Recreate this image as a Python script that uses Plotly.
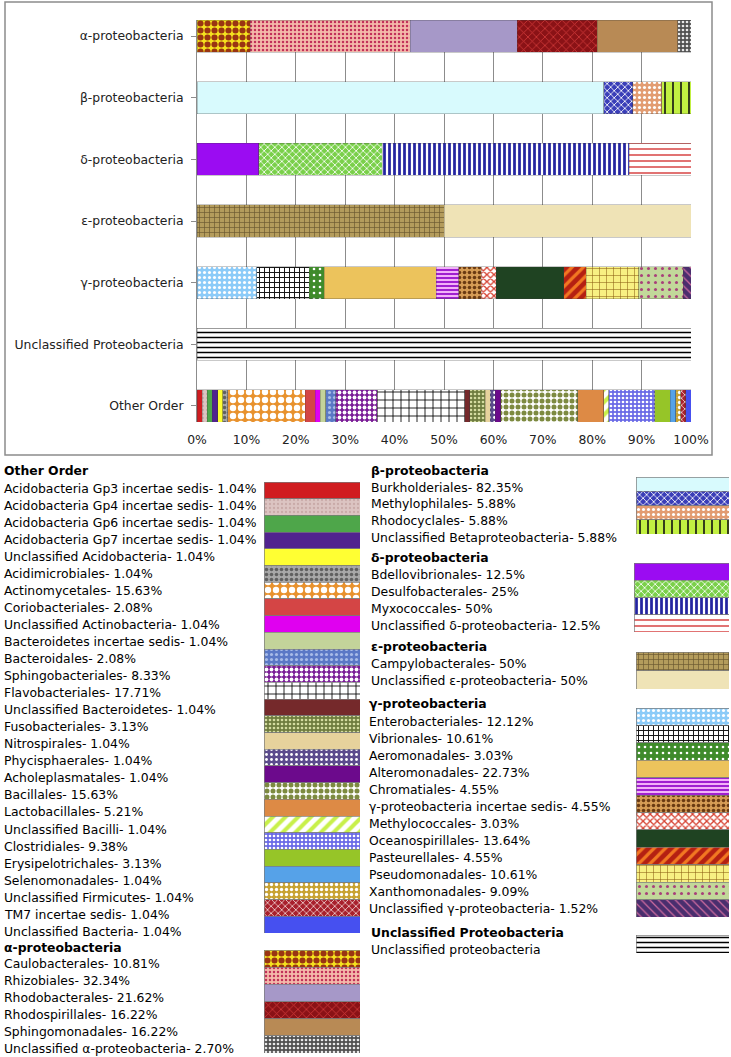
import plotly.graph_objects as go

W, H = 731, 1057
FONT = "DejaVu Sans"

categories = ["α-proteobacteria", "β-proteobacteria", "δ-proteobacteria", "ε-proteobacteria",
              "γ-proteobacteria", "Unclassified Proteobacteria", "Other Order"]
x_ticks = [0, 10, 20, 30, 40, 50, 60, 70, 80, 90, 100]

other_orders = ["Acidobacteria Gp3 incertae sedis", "Acidobacteria Gp4 incertae sedis",
                "Acidobacteria Gp6 incertae sedis", "Acidobacteria Gp7 incertae sedis",
                "Unclassified Acidobacteria", "Acidimicrobiales", "Actinomycetales",
                "Coriobacteriales", "Unclassified Actinobacteria", "Bacteroidetes incertae sedis",
                "Bacteroidales", "Sphingobacteriales", "Flavobacteriales",
                "Unclassified Bacteroidetes", "Fusobacteriales", "Nitrospirales",
                "Phycisphaerales", "Acholeplasmatales", "Bacillales", "Lactobacillales",
                "Unclassified Bacilli", "Clostridiales", "Erysipelotrichales", "Selenomonadales",
                "Unclassified Firmicutes", "TM7 incertae sedis", "Unclassified Bacteria"]
other_pct = [1.04, 1.04, 1.04, 1.04, 1.04, 1.04, 15.63, 2.08, 1.04, 1.04, 2.08, 8.33, 17.71,
             1.04, 3.13, 1.04, 1.04, 1.04, 15.63, 5.21, 1.04, 9.38, 3.13, 1.04, 1.04, 1.04, 1.04]

alpha_orders = ["Caulobacterales", "Rhizobiales", "Rhodobacterales", "Rhodospirillales",
                "Sphingomonadales", "Unclassified α-proteobacteria"]
alpha_pct = [10.81, 32.34, 21.62, 16.22, 16.22, 2.70]

beta_orders = ["Burkholderiales", "Methylophilales", "Rhodocyclales",
               "Unclassified Betaproteobacteria"]
beta_pct = [82.35, 5.88, 5.88, 5.88]

delta_orders = ["Bdellovibrionales", "Desulfobacterales", "Myxococcales",
                "Unclassified δ-proteobacteria"]
delta_pct = [12.5, 25, 50, 12.5]

epsilon_orders = ["Campylobacterales", "Unclassified ε-proteobacteria"]
epsilon_pct = [50, 50]

gamma_orders = ["Enterobacteriales", "Vibrionales", "Aeromonadales", "Alteromonadales",
                "Chromatiales", "γ-proteobacteria incertae sedis", "Methylococcales",
                "Oceanospirillales", "Pasteurellales", "Pseudomonadales", "Xanthomonadales",
                "Unclassified γ-proteobacteria"]
gamma_pct = [12.12, 10.61, 3.03, 22.73, 4.55, 4.55, 3.03, 13.64, 4.55, 10.61, 9.09, 1.52]

unclass_orders = ["Unclassified proteobacteria"]
unclass_pct = [100]

# fill per order: background, pattern shape, pattern colour, tile size, solidity
styles = {
    "Acidobacteria Gp3 incertae sedis": ("#d01c20", "", None, 6, 0.3),
    "Acidobacteria Gp4 incertae sedis": ("#dcc4c2", ".", "#c9aaa8", 4, 0.25),
    "Acidobacteria Gp6 incertae sedis": ("#4ea64a", "", None, 6, 0.3),
    "Acidobacteria Gp7 incertae sedis": ("#51238f", "", None, 6, 0.3),
    "Unclassified Acidobacteria": ("#ffff33", "", None, 6, 0.3),
    "Acidimicrobiales": ("#a8a8a8", ".", "#606060", 5, 0.4),
    "Actinomycetales": ("#e8922e", ".", "#ffffff", 8, 0.5),
    "Coriobacteriales": ("#d44545", "", None, 6, 0.3),
    "Unclassified Actinobacteria": ("#e000f0", "", None, 6, 0.3),
    "Bacteroidetes incertae sedis": ("#c3d39a", "", None, 6, 0.3),
    "Bacteroidales": ("#5a78c6", ".", "#a8bce8", 5, 0.3),
    "Sphingobacteriales": ("#7a1c96", ".", "#ffffff", 5, 0.45),
    "Flavobacteriales": ("#ffffff", "+", "#000000", 8, 0.2),
    "Unclassified Bacteroidetes": ("#75292b", "", None, 6, 0.3),
    "Fusobacteriales": ("#6e7c3e", ".", "#d4dca0", 4, 0.35),
    "Nitrospirales": ("#e6d29c", "", None, 6, 0.3),
    "Phycisphaerales": ("#5b4b8d", ".", "#ffffff", 5, 0.25),
    "Acholeplasmatales": ("#6c0a8c", "", None, 6, 0.3),
    "Bacillales": ("#ffffff", ".", "#7d8a40", 6, 0.55),
    "Lactobacillales": ("#dd8a45", "", None, 6, 0.3),
    "Unclassified Bacilli": ("#ffffff", "/", "#c8f04a", 9, 0.45),
    "Clostridiales": ("#6a6ae6", ".", "#ffffff", 4, 0.35),
    "Erysipelotrichales": ("#96c528", "", None, 6, 0.3),
    "Selenomonadales": ("#56a2e8", "", None, 6, 0.3),
    "Unclassified Firmicutes": ("#c8a232", ".", "#ffffff", 5, 0.35),
    "TM7 incertae sedis": ("#a8202c", "x", "#f0d0d0", 5, 0.3),
    "Unclassified Bacteria": ("#4650f0", "", None, 6, 0.3),
    "Caulobacterales": ("#f5e21e", ".", "#9a3512", 7, 0.6),
    "Rhizobiales": ("#f4b9aa", ".", "#c2305a", 4, 0.3),
    "Rhodobacterales": ("#a698c8", "", None, 6, 0.3),
    "Rhodospirillales": ("#8a1216", "x", "#d03a3a", 6, 0.25),
    "Sphingomonadales": ("#b88a55", "", None, 6, 0.3),
    "Unclassified α-proteobacteria": ("#505050", ".", "#e8e8e8", 4, 0.35),
    "Burkholderiales": ("#d8fafd", "", None, 6, 0.3),
    "Methylophilales": ("#3a3eb8", "x", "#ffffff", 5, 0.3),
    "Rhodocyclales": ("#e29c72", ".", "#ffffff", 5, 0.3),
    "Unclassified Betaproteobacteria": ("#c2f042", "|", "#111111", 8, 0.2),
    "Bdellovibrionales": ("#9b0cf2", "", None, 6, 0.3),
    "Desulfobacterales": ("#7ad04a", "x", "#ffffff", 5, 0.3),
    "Myxococcales": ("#ffffff", "|", "#2424a0", 5, 0.55),
    "Unclassified δ-proteobacteria": ("#ffffff", "-", "#d84444", 6, 0.25),
    "Campylobacterales": ("#b49c5c", "+", "#6a5830", 5, 0.25),
    "Unclassified ε-proteobacteria": ("#efe3b6", "", None, 6, 0.3),
    "Enterobacteriales": ("#8ccbf8", ".", "#ffffff", 5, 0.3),
    "Vibrionales": ("#ffffff", "+", "#111111", 5, 0.35),
    "Aeromonadales": ("#3f8b2b", ".", "#ffffff", 6, 0.15),
    "Alteromonadales": ("#ecc35c", "", None, 6, 0.3),
    "Chromatiales": ("#f2b2f8", "-", "#a020d0", 4, 0.5),
    "γ-proteobacteria incertae sedis": ("#d69c55", ".", "#6a3a12", 5, 0.4),
    "Methylococcales": ("#ffffff", "x", "#d64030", 5, 0.45),
    "Oceanospirillales": ("#1f4322", "", None, 6, 0.3),
    "Pasteurellales": ("#b42012", "/", "#f27822", 8, 0.4),
    "Pseudomonadales": ("#f8f082", "+", "#8a5e12", 7, 0.15),
    "Xanthomonadales": ("#c2d89a", ".", "#a8407a", 7, 0.15),
    "Unclassified γ-proteobacteria": ("#4a2e6e", "\\", "#d06ca0", 6, 0.2),
    "Unclassified proteobacteria": ("#ffffff", "-", "#000000", 5, 0.3),
}

# category, orders, values, number format
groups = [
    ("α-proteobacteria", alpha_orders, alpha_pct, "{:.2f}"),
    ("β-proteobacteria", beta_orders, beta_pct, "{:.2f}"),
    ("δ-proteobacteria", delta_orders, delta_pct, "{:g}"),
    ("ε-proteobacteria", epsilon_orders, epsilon_pct, "{:g}"),
    ("γ-proteobacteria", gamma_orders, gamma_pct, "{:.2f}"),
    ("Unclassified Proteobacteria", unclass_orders, unclass_pct, None),
    ("Other Order", other_orders, other_pct, "{:.2f}"),
]

# legend block placement in pixels: text x, heading y, first row y, row step, swatch x0, x1, y0, y1
legend_pos = {
    "Other Order": (3, 470, 488, 17.05, 264, 360, 482, 933),
    "α-proteobacteria": (3, 947, 963, 17, 264, 360, 950, 1053),
    "β-proteobacteria": (370, 470, 487, 16.9, 636, 729, 477, 534),
    "δ-proteobacteria": (370, 557, 574, 17.3, 634, 729, 563, 632),
    "ε-proteobacteria": (370, 646, 663, 17, 636, 729, 652, 689),
    "γ-proteobacteria": (368, 703, 721, 17, 636, 729, 708, 917),
    "Unclassified Proteobacteria": (370, 932, 949, 17, 636, 729, 935, 953),
}


def fill(name, line_w, line_c):
    bg, shape, fg, size, sol = styles[name]
    m = dict(color=bg, line=dict(width=line_w, color=line_c))
    if shape:
        m["pattern"] = dict(shape=shape, bgcolor=bg, fgcolor=fg, size=size,
                            solidity=sol, fillmode="replace")
    return m


fig = go.Figure()

# main 100% stacked bars
for cat, orders, vals, fmt in groups:
    for name, v in zip(orders, vals):
        fig.add_trace(go.Bar(x=[v], y=[cat], orientation="h", name=name, width=0.52,
                             marker=fill(name, 0.5, "rgba(60,60,60,0.55)"),
                             xaxis="x", yaxis="y", showlegend=False))

layout = dict(
    width=W, height=H, autosize=False, margin=dict(l=0, r=0, t=0, b=0, pad=0),
    paper_bgcolor="white", plot_bgcolor="white",
    barmode="stack", barnorm="percent", showlegend=False,
    font=dict(family=FONT, size=12.4, color="#000000"),
    xaxis=dict(domain=[197 / W, 691 / W], anchor="y", range=[0, 100], automargin=False,
               tickmode="array", tickvals=x_ticks, ticktext=["%d%%" % t for t in x_ticks],
               showgrid=True, gridcolor="#8c8c8c", gridwidth=1, zeroline=False,
               showline=False, ticks="", ticklabelstandoff=9,
               tickfont=dict(size=12.4, color="#222222")),
    yaxis=dict(domain=[1 - 422 / H, 1 - 20 / H], anchor="x", type="category", automargin=False,
               categoryorder="array", categoryarray=categories, range=[6.26, -0.26],
               showgrid=False, showline=True, linecolor="#8c8c8c", linewidth=1,
               ticks="outside", ticklen=5, tickcolor="#8c8c8c", ticklabelstandoff=5,
               tickfont=dict(size=12.4, color="#222222")),
)

annotations = []
k = 2
for cat, orders, vals, fmt in groups:
    tx, hy, fy, step, sx0, sx1, sy0, sy1 = legend_pos[cat]
    xa, ya = "x%d" % k, "y%d" % k
    layout["xaxis%d" % k] = dict(domain=[sx0 / W, sx1 / W], anchor=ya, range=[0, 100],
                                 visible=False, fixedrange=True, automargin=False)
    layout["yaxis%d" % k] = dict(domain=[1 - sy1 / H, 1 - sy0 / H], anchor=xa,
                                 type="category", categoryorder="array", categoryarray=orders,
                                 range=[len(orders) - 0.5, -0.5], visible=False,
                                 fixedrange=True, automargin=False)
    for name, v in zip(orders, vals):
        fig.add_trace(go.Bar(x=[1], y=[name], orientation="h", width=1,
                             marker=fill(name, 0.7, "#7a7a7a"),
                             xaxis=xa, yaxis=ya, showlegend=False))
    annotations.append(dict(text="<b>%s</b>" % cat, x=tx / W, y=1 - hy / H, xref="paper",
                            yref="paper", xanchor="left", yanchor="middle", showarrow=False,
                            borderpad=0, font=dict(size=12.4, color="#000000")))
    for i, (name, v) in enumerate(zip(orders, vals)):
        label = name if fmt is None else "%s- %s%%" % (name, fmt.format(v))
        annotations.append(dict(text=label, x=tx / W, y=1 - (fy + i * step) / H,
                                xref="paper", yref="paper", xanchor="left", yanchor="middle",
                                showarrow=False, borderpad=0,
                                font=dict(size=12.4, color="#000000")))
    k += 1

layout["annotations"] = annotations
layout["shapes"] = [dict(type="rect", xref="paper", yref="paper", x0=5 / W, x1=712 / W,
                         y0=1 - 455 / H, y1=1 - 2 / H, line=dict(color="#8c8c8c", width=1.5))]

fig.update_layout(**layout)
fig.write_html("out.html", config={"displayModeBar": False},
               post_script="document.body.style.margin='0';")
